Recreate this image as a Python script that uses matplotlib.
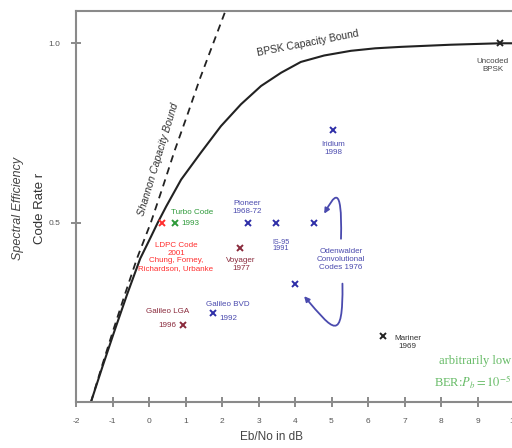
import matplotlib
matplotlib.use("Agg")
import matplotlib.pyplot as plt
from matplotlib.patches import FancyArrowPatch
from matplotlib.path import Path

plt.rcParams['font.family'] = ['Liberation Sans', 'DejaVu Sans']
plt.rcParams['axes.unicode_minus'] = False

# curves
shannon_x = [-1.59, -1.29, -0.98, -0.66, -0.33, 0.05, 0.38, 0.70, 1.05, 1.39, 1.76, 2.13]
shannon_y = [0.0, 0.1, 0.2, 0.3, 0.4, 0.5, 0.6, 0.7, 0.8, 0.9, 1.0, 1.1]

bpsk_x = [-1.59, -1.27, -0.94, -0.6, -0.24, 0.05, 0.24, 0.47, 0.88, 1.42, 1.97, 2.52,
          3.07, 3.62, 4.16, 4.8, 5.53, 6.2, 6.9, 8.27, 9.6, 10.5]
bpsk_y = [0.0, 0.1, 0.2, 0.3, 0.4, 0.46, 0.5, 0.545, 0.62, 0.695, 0.769, 0.83,
          0.881, 0.918, 0.948, 0.966, 0.979, 0.986, 0.99, 0.996, 1.0, 1.0]

# code points
codes = ["LDPC", "Turbo", "Pioneer", "Voyager", "Galileo BVD", "Galileo LGA",
         "IS-95", "Odenwalder 1", "Odenwalder 2", "Iridium", "Mariner", "Uncoded"]
code_x = [0.35, 0.71, 2.7, 2.5, 1.75, 0.92, 3.48, 4.51, 4.01, 5.05, 6.41, 9.62]
code_y = [0.5, 0.5, 0.5, 0.43, 0.248, 0.215, 0.5, 0.5, 0.33, 0.757, 0.184, 1.0]

RED = '#ff2e2e'
GREEN = '#2e9a3a'
BLUE = '#2e2ea8'
LBLUE = '#4a4aae'
DRED = '#8a2a3c'
code_colors = [RED, GREEN, BLUE, DRED, BLUE, DRED, BLUE, BLUE, BLUE, BLUE, '#222222', '#222222']

fig = plt.figure(figsize=(5.12, 4.48), dpi=100)
ax = fig.add_axes([76 / 512, 46 / 448, 438 / 512, 391 / 448])

ax.plot(shannon_x, shannon_y, color='#222222', lw=1.3, ls=(0, (4, 3)))
ax.plot(bpsk_x, bpsk_y, color='#222222', lw=1.5)

for x, y, c in zip(code_x, code_y, code_colors):
    ax.plot(x, y, marker='x', color=c, ms=5, mew=1.4, ls='none')

ax.set_xlim(-2, 10)
ax.set_ylim(0, 1.09)
ax.set_xticks(range(-2, 11))
ax.set_yticks([0.5, 1.0])
ax.set_yticklabels(['0.5', '1.0'])
for s in ax.spines.values():
    s.set_color('#8a8a8a')
    s.set_linewidth(1.5)
ax.spines['right'].set_linewidth(0.8)
ax.spines['right'].set_color('#cccccc')
ax.tick_params(direction='inout', length=7, width=1.2, color='#777777',
               labelsize=6, labelcolor='#555555', pad=8)

ax.set_xlabel('Eb/No in dB', fontsize=8.5, color='#444444')
ax.xaxis.set_label_coords((272 - 76) / 438, -0.075)
fig.text(18 / 512, 1 - 208 / 448, 'Spectral Efficiency', rotation=90, style='italic',
         fontsize=9, color='#444444', ha='center', va='center')
fig.text(40 / 512, 1 - 208 / 448, 'Code Rate r', rotation=90,
         fontsize=9.5, color='#333333', ha='center', va='center')

# curve labels
ax.text(4.36, 1.0, 'BPSK Capacity Bound', rotation=11, fontsize=7.5,
        color='#333333', ha='center', va='center')
ax.text(0.25, 0.676, 'Shannon Capacity Bound', rotation=73, fontsize=7.5,
        style='italic', color='#333333', ha='center', va='center')

fs = 5.8
ax.text(1.18, 0.527, 'Turbo Code', fontsize=fs, color=GREEN, ha='center', va='center')
ax.text(0.90, 0.497, '1993', fontsize=fs, color=GREEN, ha='left', va='center')
ax.text(0.74, 0.404, 'LDPC Code\n2001\nChung, Forney,\nRichardson, Urbanke',
        fontsize=fs, color=RED, ha='center', va='center', linespacing=1.15)
ax.text(2.7, 0.542, 'Pioneer\n1968-72', fontsize=fs, color=LBLUE, ha='center', va='center')
ax.text(2.52, 0.383, 'Voyager\n1977', fontsize=fs, color=DRED, ha='center', va='center')
ax.text(2.16, 0.273, 'Galileo BVD', fontsize=fs, color=LBLUE, ha='center', va='center')
ax.text(1.92, 0.234, '1992', fontsize=fs, color=LBLUE, ha='left', va='center')
ax.text(0.51, 0.252, 'Galileo LGA', fontsize=fs, color=DRED, ha='center', va='center')
ax.text(0.51, 0.213, '1996', fontsize=fs, color=DRED, ha='center', va='center')
ax.text(3.62, 0.436, 'IS-95\n1991', fontsize=5.2, color=LBLUE, ha='center', va='center',
        linespacing=0.9)
ax.text(5.05, 0.707, 'Iridium\n1998', fontsize=fs, color=LBLUE, ha='center', va='center')
ax.text(7.09, 0.165, 'Mariner\n1969', fontsize=fs, color='#333333', ha='center', va='center')
ax.text(9.42, 0.938, 'Uncoded\nBPSK', fontsize=fs, color='#444444', ha='center', va='center')
ax.text(5.26, 0.397, 'Odenwalder\nConvolutional\nCodes 1976', fontsize=fs, color=LBLUE,
        ha='center', va='center')

# curved arrows to the two Odenwalder points
up = Path([(5.26, 0.455), (5.30, 0.62), (5.05, 0.57), (4.80, 0.525)],
          [Path.MOVETO, Path.CURVE4, Path.CURVE4, Path.CURVE4])
down = Path([(5.30, 0.33), (5.32, 0.16), (5.05, 0.20), (4.25, 0.295)],
            [Path.MOVETO, Path.CURVE4, Path.CURVE4, Path.CURVE4])
for p in (up, down):
    ax.add_patch(FancyArrowPatch(path=p, arrowstyle='-|>,head_length=3,head_width=1.5',
                                 color=LBLUE, lw=1.3))

ax.text(9.92, 0.115, 'arbitrarily low', fontsize=9, color='#66bb66',
        family='Liberation Serif', ha='right', va='center')
ax.text(9.92, 0.055, r'BER:$P_b = 10^{-5}$', fontsize=9, color='#66bb66',
        family='Liberation Serif', ha='right', va='center', math_fontfamily='stix')

fig.savefig('out.png', dpi=100)
